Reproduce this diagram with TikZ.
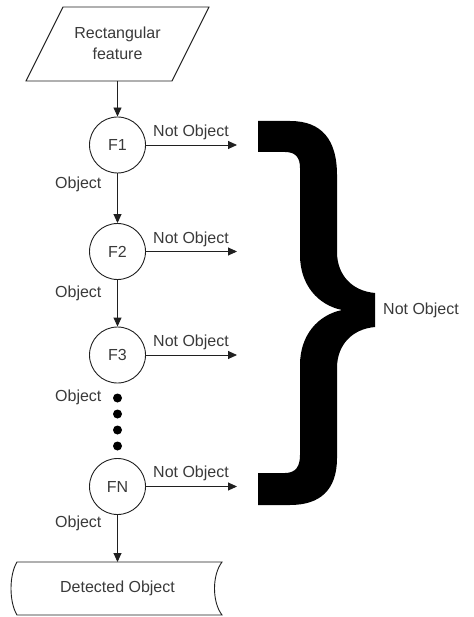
\documentclass[tikz,border=0pt]{standalone}
\usepackage{fontspec}
\setmainfont{Liberation Sans}
\usetikzlibrary{arrows.meta,shapes.geometric}
\definecolor{txt}{HTML}{3A3A3A}
\definecolor{ln}{HTML}{202020}
\begin{document}
\begin{tikzpicture}[x=1pt,y=-1pt,
  lbl/.style={font=\fontsize{16}{18}\selectfont,text=txt,inner sep=0pt},
  fcirc/.style={circle,draw=ln,line width=0.9pt,minimum size=56pt,inner sep=0pt,font=\fontsize{16}{18}\selectfont,text=txt},
  arr/.style={draw=ln,line width=0.9pt,-{Triangle[length=9pt,width=8pt]}},
  ln/.style={draw=ln,line width=0.9pt}]
\useasboundingbox (0,0) rectangle (473,617);
% parallelogram
\draw[ln] (63,7) -- (209,7) -- (172,81) -- (26,81) -- cycle;
\node[lbl,align=center] (inp) at (117.5,43) {Rectangular\\[3pt]feature};
\coordinate (inb) at (117.5,81);
% circles
\node[fcirc] (f1) at (117.5,145) {F1};
\node[fcirc] (f2) at (117.5,251.5) {F2};
\node[fcirc] (f3) at (117.5,355) {F3};
\node[fcirc] (fn) at (117.5,486.5) {FN};
\draw[arr] (inb) -- (f1.north);
\draw[arr] (f1.south) -- (f2.north);
\draw[arr] (f2.south) -- (f3.north);
% not object arrows
\coordinate (e1) at (237,145);
\coordinate (e2) at (237,251.5);
\coordinate (e3) at (237,355);
\coordinate (en) at (237,486.5);
\draw[arr] (f1.east) -- (e1);
\draw[arr] (f2.east) -- (e2);
\draw[arr] (f3.east) -- (e3);
\draw[arr] (fn.east) -- (en);
\node[lbl,anchor=west] (n1) at (153,132) {Not Object};
\node[lbl,anchor=west] (n2) at (153,239) {Not Object};
\node[lbl,anchor=west] (n3) at (153,342) {Not Object};
\node[lbl,anchor=west] (nn) at (153,473) {Not Object};
\node[lbl,anchor=west] (o1) at (55,184) {Object};
\node[lbl,anchor=west] (o2) at (55,293) {Object};
\node[lbl,anchor=west] (o3) at (55,397) {Object};
\node[lbl,anchor=west] (on) at (55,523) {Object};
% dots
\foreach \yy/\nm in {398/d1,414/d2,430/d3,446/d4}
  \node[circle,fill=black,minimum size=9pt,inner sep=0pt] (\nm) at (117.5,\yy) {};
% detected object
\draw[ln] (17,562) -- (222,562) .. controls (212,575) and (212,602) .. (222,615)
  -- (17,615) .. controls (9,602) and (9,575) .. (17,562) -- cycle;
\node[lbl] (det) at (117.5,588) {Detected Object};
\coordinate (dett) at (117.5,562);
\draw[arr] (fn.south) -- (dett);
% brace
\fill[black] (258,121) -- (290,121)
  .. controls (322,121) and (337,140) .. (337,175)
  -- (337,252)
  .. controls (337,275) and (352,291) .. (375,293)
  -- (375,327)
  .. controls (352,329) and (337,345) .. (337,368)
  -- (337,458)
  .. controls (337,490) and (320,505) .. (290,505)
  -- (258,505) -- (258,473) -- (285,473)
  .. controls (296,473) and (300,466) .. (300,455)
  -- (300,365)
  .. controls (300,335) and (318,315) .. (342,310)
  .. controls (318,305) and (300,285) .. (300,255)
  -- (300,168)
  .. controls (300,158) and (296,152) .. (285,152)
  -- (258,152) -- cycle;
\node[lbl,anchor=west] (nb) at (383,310) {Not Object};
\end{tikzpicture}
\end{document}
